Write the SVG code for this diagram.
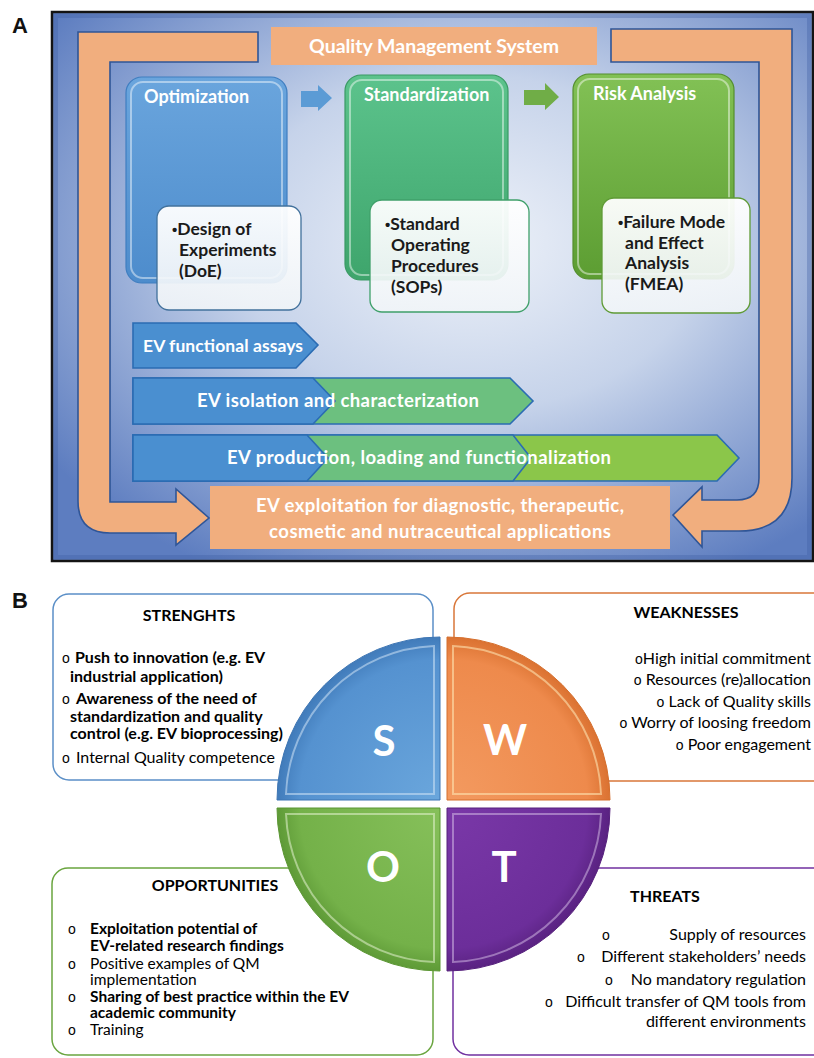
<svg xmlns="http://www.w3.org/2000/svg" width="814" height="1058" viewBox="0 0 814 1058">
<defs>
<radialGradient id="bgA" cx="55%" cy="42%" r="68%">
<stop offset="0" stop-color="#eef2f9"/>
<stop offset="0.45" stop-color="#c6d3ea"/>
<stop offset="1" stop-color="#5d7dc0"/>
</radialGradient>
<linearGradient id="gBlue" x1="0" y1="0" x2="0" y2="1">
<stop offset="0" stop-color="#6aa5dd"/>
<stop offset="1" stop-color="#4d8ccc"/>
</linearGradient>
<linearGradient id="gGreen" x1="0" y1="0" x2="0" y2="1">
<stop offset="0" stop-color="#5cc38c"/>
<stop offset="1" stop-color="#3ea56c"/>
</linearGradient>
<linearGradient id="gLGreen" x1="0" y1="0" x2="0" y2="1">
<stop offset="0" stop-color="#82c155"/>
<stop offset="1" stop-color="#5c9d32"/>
</linearGradient>
<linearGradient id="gWhite" x1="0" y1="0" x2="0" y2="1">
<stop offset="0" stop-color="#ffffff" stop-opacity="0.95"/>
<stop offset="1" stop-color="#f1f5f8" stop-opacity="0.9"/>
</linearGradient>
<radialGradient id="qS" cx="440" cy="800" r="165" gradientUnits="userSpaceOnUse">
<stop offset="0" stop-color="#6aa6dc"/><stop offset="0.85" stop-color="#5592d0"/><stop offset="1" stop-color="#3f79b8"/>
</radialGradient>
<radialGradient id="qW" cx="447" cy="800" r="165" gradientUnits="userSpaceOnUse">
<stop offset="0" stop-color="#f39a60"/><stop offset="0.85" stop-color="#ee8a4c"/><stop offset="1" stop-color="#d9702f"/>
</radialGradient>
<radialGradient id="qO" cx="440" cy="808" r="165" gradientUnits="userSpaceOnUse">
<stop offset="0" stop-color="#86c05a"/><stop offset="0.85" stop-color="#74b149"/><stop offset="1" stop-color="#5c9835"/>
</radialGradient>
<radialGradient id="qT" cx="447" cy="808" r="165" gradientUnits="userSpaceOnUse">
<stop offset="0" stop-color="#7a38a8"/><stop offset="0.85" stop-color="#6c2e9a"/><stop offset="1" stop-color="#58217f"/>
</radialGradient>
<style>
.lbl{font-family:"Liberation Sans",Arial,sans-serif;font-weight:bold;font-size:22px;fill:#111}
.wt{font-family:Lato,"Open Sans",sans-serif;font-weight:bold;fill:#fff}
.dk{font-family:Lato,"Open Sans",sans-serif;font-weight:bold;fill:#1a1a1a;font-size:17.5px}
.dot{font-family:"Liberation Sans",Arial,sans-serif;font-size:15px}
.orange{fill:#f1ae7e}
.larrow{fill:#f1ae7e;stroke:#2f5597;stroke-width:1.6}
.chev{stroke:#2b6cb3;stroke-width:1.6}
.hl{fill:none;stroke:#ffffff;stroke-opacity:0.45;stroke-width:2}
.sw{font-family:Lato,"Open Sans",sans-serif;fill:#000;font-size:16px}
.op{font-size:15.5px}
.b{font-weight:bold}
.ttl{font-family:Lato,"Open Sans",sans-serif;font-weight:bold;fill:#000;font-size:16px}
.bul{font-family:"Liberation Sans",Arial,sans-serif;font-weight:normal;font-size:14px}
.big{font-family:Lato,"Open Sans",sans-serif;font-weight:bold;fill:#fff;font-size:42px;text-anchor:middle}
</style>
</defs>

<rect width="814" height="1058" fill="#ffffff"/>

<text class="lbl" x="12" y="33">A</text>
<text class="lbl" x="12" y="608">B</text>

<g id="panelA-frame">
<rect x="52" y="12" width="761" height="549" fill="url(#bgA)" stroke="#141414" stroke-width="2.5"/>
<rect x="56" y="16" width="753" height="541" fill="none" stroke="#3f5fa3" stroke-opacity="0.35" stroke-width="4"/>
</g>

<g id="connectors">
<path class="larrow" d="M78,32 H258 V62 H110 V502 H176 V489 L209,518 L176,545 V533 H110 Q78,533 78,501 Z"/>
<path class="larrow" d="M611,29 H792 V478 Q792,531 739,531 H702 V547 L673,515 L702,487 V500 H737 Q759,500 759,478 V62 H611 Z"/>
<path d="M301,91 H318 V85 L332,98 L318,111 V107 H301 Z" fill="#5b9bd5"/>
<path d="M524,90 H545 V83 L559,97 L545,110 V105 H524 Z" fill="#70ad47"/>
</g>

<g id="qms">
<rect class="orange" x="271" y="27" width="326" height="38"/>
<text class="wt" x="434" y="53" font-size="19.5" text-anchor="middle">Quality Management System</text>
</g>

<g id="optimization">
<rect x="126" y="77" width="161" height="206" rx="16" fill="url(#gBlue)" stroke="#3f7ec0" stroke-width="1.2"/>
<rect x="131" y="82" width="151" height="196" rx="12" class="hl"/>
<text class="wt" x="144" y="103" font-size="18">Optimization</text>
<rect x="157" y="206" width="144" height="104" rx="12" fill="url(#gWhite)" stroke="#41719c" stroke-width="1.3"/>
<text class="dk" x="172" y="235"><tspan class="dot">•</tspan>Design of</text>
<text class="dk" x="179" y="256">Experiments</text>
<text class="dk" x="179" y="277">(DoE)</text>
</g>

<g id="standardization">
<rect x="345" y="75" width="163" height="205" rx="16" fill="url(#gGreen)" stroke="#3a9a64" stroke-width="1.2"/>
<rect x="350" y="80" width="153" height="195" rx="12" class="hl"/>
<text class="wt" x="364" y="101" font-size="18">Standardization</text>
<rect x="370" y="200" width="159" height="112" rx="12" fill="url(#gWhite)" stroke="#3fa06a" stroke-width="1.3"/>
<text class="dk" x="385" y="230"><tspan class="dot">•</tspan>Standard</text>
<text class="dk" x="391" y="251">Operating</text>
<text class="dk" x="391" y="272">Procedures</text>
<text class="dk" x="391" y="293">(SOPs)</text>
</g>

<g id="risk-analysis">
<rect x="573" y="74" width="161" height="205" rx="16" fill="url(#gLGreen)" stroke="#548e2e" stroke-width="1.2"/>
<rect x="578" y="79" width="151" height="195" rx="12" class="hl"/>
<text class="wt" x="593" y="100" font-size="18">Risk Analysis</text>
<rect x="602" y="198" width="148" height="115" rx="12" fill="url(#gWhite)" stroke="#5f9b36" stroke-width="1.3"/>
<text class="dk" x="618" y="228"><tspan class="dot">•</tspan>Failure Mode</text>
<text class="dk" x="625" y="249">and Effect</text>
<text class="dk" x="625" y="269">Analysis</text>
<text class="dk" x="625" y="290">(FMEA)</text>
</g>

<g id="functional-assays">
<path class="chev" d="M133,323 H296 L318,345 L296,368 H133 Z" fill="#4a8fd0"/>
<text class="wt" x="143" y="352" font-size="17.5" textLength="160">EV functional assays</text>
</g>

<g id="isolation">
<path class="chev" d="M133,378 H510 L533,401 L510,424 H133 Z" fill="#6cc07f"/>
<path class="chev" d="M133,378 H313 L335,401 L313,424 H133 Z" fill="#4a8fd0"/>
<text class="wt" x="197" y="407" font-size="18.5" textLength="282">EV isolation and characterization</text>
</g>

<g id="production">
<path class="chev" d="M133,435 H717 L739,458 L717,481 H133 Z" fill="#8bc64a"/>
<path class="chev" d="M133,435 H513 L531,458 L513,481 H133 Z" fill="#6cc07f"/>
<path class="chev" d="M133,435 H307 L328,458 L307,481 H133 Z" fill="#4a8fd0"/>
<text class="wt" x="227" y="464" font-size="18.5" textLength="384">EV production, loading and functionalization</text>
</g>

<g id="exploitation">
<rect class="orange" x="210" y="486" width="460" height="63"/>
<text class="wt" x="256" y="512" font-size="18.5" textLength="368">EV exploitation for diagnostic, therapeutic,</text>
<text class="wt" x="269" y="538" font-size="18.5" textLength="342">cosmetic and nutraceutical applications</text>
</g>

<g id="strengths">
<rect x="53" y="594" width="380" height="186" rx="16" fill="#fff" stroke="#5b8fc7" stroke-width="1.5"/>
<text class="ttl" x="189" y="621" text-anchor="middle">STRENGHTS</text>
<text class="sw bul" x="62" y="663">o</text>
<text class="sw b" x="75" y="663">Push to innovation (e.g. EV</text>
<text class="sw b" x="70" y="682">industrial application)</text>
<text class="sw bul" x="62" y="704">o</text>
<text class="sw b" x="76" y="704">Awareness of the need of</text>
<text class="sw b" x="70" y="722">standardization and quality</text>
<text class="sw b" x="70" y="739">control (e.g. EV bioprocessing)</text>
<text class="sw bul" x="62" y="763">o</text>
<text class="sw" x="76" y="763">Internal Quality competence</text>
</g>

<g id="weaknesses">
<rect x="454" y="593" width="374" height="188" rx="16" fill="#fff" stroke="#d9773a" stroke-width="1.5"/>
<text class="ttl" x="686" y="618" text-anchor="middle">WEAKNESSES</text>
<text class="sw" x="811" y="664" text-anchor="end"><tspan class="bul">o</tspan>High initial commitment</text>
<text class="sw" x="811" y="685" text-anchor="end"><tspan class="bul">o</tspan> Resources (re)allocation</text>
<text class="sw" x="811" y="707" text-anchor="end"><tspan class="bul">o</tspan> Lack of Quality skills</text>
<text class="sw" x="811" y="728" text-anchor="end"><tspan class="bul">o</tspan> Worry of loosing freedom</text>
<text class="sw" x="811" y="750" text-anchor="end"><tspan class="bul">o</tspan> Poor engagement</text>
</g>

<g id="opportunities">
<rect x="52" y="868" width="381" height="187" rx="16" fill="#fff" stroke="#6aa53f" stroke-width="1.5"/>
<text class="ttl" x="215" y="891" text-anchor="middle">OPPORTUNITIES</text>
<text class="sw bul" x="68" y="934">o</text>
<text class="sw op b" x="90" y="934">Exploitation potential of</text>
<text class="sw op b" x="90" y="951">EV-related research findings</text>
<text class="sw bul" x="68" y="969">o</text>
<text class="sw op" x="90" y="969">Positive examples of QM</text>
<text class="sw op" x="90" y="985">implementation</text>
<text class="sw bul" x="68" y="1002">o</text>
<text class="sw op b" x="90" y="1002">Sharing of best practice within  the EV</text>
<text class="sw op b" x="90" y="1018">academic community</text>
<text class="sw bul" x="68" y="1035">o</text>
<text class="sw op" x="90" y="1035">Training</text>
</g>

<g id="threats">
<rect x="453" y="868" width="375" height="187" rx="16" fill="#fff" stroke="#7030a0" stroke-width="1.5"/>
<text class="ttl" x="665" y="902" text-anchor="middle">THREATS</text>
<text class="sw bul" x="602" y="940">o</text>
<text class="sw" x="806" y="940" text-anchor="end">Supply of resources</text>
<text class="sw bul" x="577" y="962">o</text>
<text class="sw" x="806" y="962" text-anchor="end">Different stakeholders’ needs</text>
<text class="sw bul" x="605" y="985">o</text>
<text class="sw" x="806" y="985" text-anchor="end">No mandatory regulation</text>
<text class="sw bul" x="545" y="1007">o</text>
<text class="sw" x="806" y="1007" text-anchor="end">Difficult transfer of QM tools from</text>
<text class="sw" x="806" y="1027" text-anchor="end">different  environments</text>
</g>

<g id="swot-S">
<path d="M440,800 H277 A163,163 0 0 1 440,637 Z" fill="url(#qS)" stroke="#3d75b3" stroke-width="1"/>
<path d="M434,794 H286 A154,154 0 0 1 434,646 Z" fill="none" stroke="#cfe3f5" stroke-opacity="0.55" stroke-width="2"/>
<text class="big" x="384" y="756">S</text>
</g>
<g id="swot-W">
<path d="M447,800 V637 A163,163 0 0 1 610,800 Z" fill="url(#qW)" stroke="#d56e2c" stroke-width="1"/>
<path d="M453,794 V646 A154,154 0 0 1 601,794 Z" fill="none" stroke="#fde3b0" stroke-opacity="0.6" stroke-width="2"/>
<text class="big" x="505" y="755">W</text>
</g>
<g id="swot-O">
<path d="M440,808 V971 A163,163 0 0 1 277,808 Z" fill="url(#qO)" stroke="#5b9633" stroke-width="1"/>
<path d="M434,814 V962 A154,154 0 0 1 286,814 Z" fill="none" stroke="#e3f3cf" stroke-opacity="0.55" stroke-width="2"/>
<text class="big" x="383" y="882">O</text>
</g>
<g id="swot-T">
<path d="M447,808 H610 A163,163 0 0 1 447,971 Z" fill="url(#qT)" stroke="#56207d" stroke-width="1"/>
<path d="M453,814 H601 A154,154 0 0 1 453,962 Z" fill="none" stroke="#d9c3ea" stroke-opacity="0.5" stroke-width="2"/>
<text class="big" x="504" y="882">T</text>
</g>
</svg>
